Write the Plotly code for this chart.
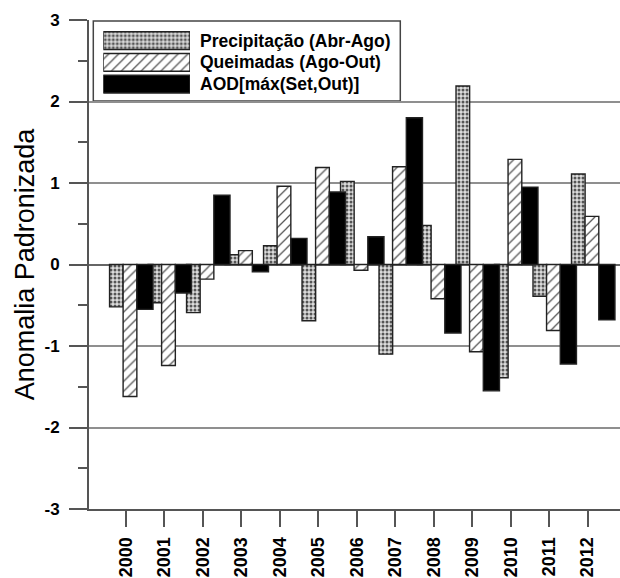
import plotly.graph_objects as go

# ---- data ----
years = [2000, 2001, 2002, 2003, 2004, 2005, 2006, 2007, 2008, 2009, 2010, 2011, 2012]
year_labels = [str(y) for y in years]
precip = [-0.52, -0.47, -0.59, 0.12, 0.23, -0.69, 1.02, -1.10, 0.48, 2.19, -1.39, -0.39, 1.11]
queimadas = [-1.62, -1.24, -0.18, 0.17, 0.96, 1.19, -0.07, 1.20, -0.42, -1.07, 1.29, -0.81, 0.59]
aod = [-0.55, -0.35, 0.85, -0.09, 0.32, 0.89, 0.34, 1.80, -0.84, -1.55, 0.95, -1.22, -0.68]
series_names = ["Precipitação (Abr-Ago)", "Queimadas (Ago-Out)", "AOD[máx(Set,Out)]"]
y_tick_vals = [-3, -2, -1, 0, 1, 2, 3]
y_tick_text = ["-3", "-2", "-1", "0", "1", "2", "3"]
legend_rows = [0, 1, 2]
legend_len = [1, 1, 1]

# ---- styles ----
FONT = "Liberation Sans, Arial, sans-serif"
OUTLINE = dict(color="#222222", width=1.4)
styles = [
    dict(color="#d9d9d9", pattern=dict(shape=".", size=4, solidity=0.45,
                                       fgcolor="#555555", bgcolor="#dcdcdc", fillmode="replace"),
         line=OUTLINE),
    dict(color="white", pattern=dict(shape="/", size=7, solidity=0.18,
                                     fgcolor="#555555", bgcolor="white", fillmode="replace"),
         line=OUTLINE),
    dict(color="black", line=OUTLINE),
]
offsets = [-0.42, -0.068, 0.289]
widths = [0.354, 0.357, 0.42]
values = [precip, queimadas, aod]

fig = go.Figure()
for name, vals, st, off, w in zip(series_names, values, styles, offsets, widths):
    fig.add_trace(go.Bar(x=years, y=vals, name=name, marker=st,
                         offset=off, width=w, showlegend=False))

# custom legend swatches (inset axis)
for row, name, st, ln in zip(legend_rows, series_names, styles, legend_len):
    fig.add_trace(go.Bar(x=[ln], y=[row], orientation="h", xaxis="x2", yaxis="y2",
                         marker=st, width=0.815, showlegend=False, hoverinfo="skip",
                         name=name))

L, R, T, B = 89, 0, 20, 69
W, H = 620, 578
pw, ph = W - L - R, H - T - B


def px_x(px):
    return (px - L) / pw


def px_y(py):
    return (H - B - py) / ph


fig.update_layout(
    width=W, height=H,
    margin=dict(l=L, r=R, t=T, b=B),
    paper_bgcolor="white", plot_bgcolor="white",
    barmode="overlay",
    font=dict(family=FONT, color="black"),
    xaxis=dict(
        range=[1999.046, 2012.84],
        tickvals=years, ticktext=year_labels, tickangle=-90,
        ticks="outside", ticklen=16, tickwidth=1.5, tickcolor="#555555",
        tickfont=dict(family=FONT, size=18, color="black", weight="bold"),
        ticklabelstandoff=3,
        showgrid=False, zeroline=False,
        showline=True, linecolor="#555555", linewidth=2,
    ),
    yaxis=dict(
        range=[-3, 3],
        tickvals=y_tick_vals, ticktext=y_tick_text,
        ticks="outside", ticklen=18, tickwidth=1.5, tickcolor="#555555",
        tickfont=dict(family=FONT, size=17, color="black", weight="bold"),
        ticklabelstandoff=6,
        minor=dict(ticks="outside", dtick=0.5, ticklen=9, tickwidth=1.5,
                   tickcolor="#555555", showgrid=False),
        showgrid=True, gridcolor="#8f8f8f", gridwidth=1.5,
        zeroline=True, zerolinecolor="#666666", zerolinewidth=1.5,
        showline=True, linecolor="#555555", linewidth=2,
        title=dict(text="Anomalia Padronizada",
                   font=dict(family=FONT, size=27, color="black"), standoff=2),
    ),
    xaxis2=dict(domain=[px_x(103.3), px_x(190)], range=[0, 1], anchor="y2",
                visible=False, fixedrange=True),
    yaxis2=dict(domain=[px_y(95), px_y(29.7)], range=[2.5, -0.5], anchor="x2",
                visible=False, fixedrange=True),
)

# legend box
fig.add_shape(type="rect", xref="paper", yref="paper",
              x0=px_x(93.3), x1=px_x(400.3), y0=px_y(101), y1=px_y(21),
              line=dict(color="#444444", width=1.5), fillcolor="rgba(0,0,0,0)",
              layer="below")

row_y = [40.5, 62.5, 84.2]
for name, ry in zip(series_names, row_y):
    fig.add_annotation(x=px_x(198.3), y=px_y(ry), xref="paper", yref="paper",
                       text=name, showarrow=False, xanchor="left", yanchor="middle",
                       font=dict(family=FONT, size=17.5, color="black", weight="bold"))

fig.write_html("out.html",
               config={"displayModeBar": False},
               post_script="document.body.style.margin='0';document.body.style.overflow='hidden';")
